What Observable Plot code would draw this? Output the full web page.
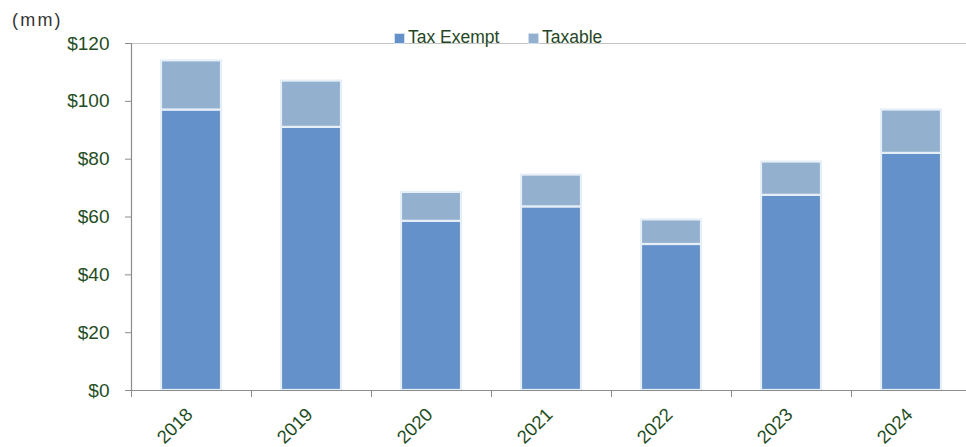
<!DOCTYPE html>
<html>
<head>
<meta charset="utf-8">
<script src="https://cdn.jsdelivr.net/npm/d3@7"></script>
<script src="https://cdn.jsdelivr.net/npm/@observablehq/plot@0.6"></script>
<style>
  html, body { margin: 0; padding: 0; background: #fff; }
  #wrap { position: relative; width: 966px; height: 447px; overflow: hidden; font-family: "Liberation Sans", Arial, sans-serif; }
  #wrap > svg { position: absolute; left: 0; top: 0; }
</style>
</head>
<body>
<div id="wrap"></div>
<script>
const years = ["2018", "2019", "2020", "2021", "2022", "2023", "2024"];
const taxExempt = [97, 91, 58.5, 63.5, 50.5, 67.5, 82];
const taxable = [17, 16, 10, 11, 8.5, 11.5, 15];
const seriesNames = ["Tax Exempt", "Taxable"];
const seriesColors = ["#6591cb", "#93b0cf"];
const yTicks = [0, 20, 40, 60, 80, 100, 120];
const unitLabel = "(mm)";

const table = [];
years.forEach((yr, i) => {
  table.push({year: yr, series: seriesNames[0], value: taxExempt[i]});
  table.push({year: yr, series: seriesNames[1], value: taxable[i]});
});

const green = "#1f4d1f";
const axisGray = "#8c8c8c";

const chart = Plot.plot({
  width: 966,
  height: 447,
  marginTop: 43,
  marginBottom: 57,
  marginLeft: 131,
  marginRight: 0,
  style: {fontFamily: "'Liberation Sans', Arial, sans-serif", overflow: "visible", background: "transparent"},
  x: {domain: years, range: [131, 971], paddingInner: 0.5, paddingOuter: 0.25},
  y: {domain: [0, 120]},
  color: {domain: seriesNames, range: seriesColors},
  marks: [
    Plot.ruleY([120], {stroke: "#c4c4c4", strokeWidth: 1.2}),
    Plot.barY(table, {x: "year", y: "value", fill: "series", stroke: "#e6eef8", strokeWidth: 2.2}),
    Plot.ruleY([0], {stroke: axisGray, strokeWidth: 1.2}),
    Plot.ruleX([years[0]], {y1: 0, y2: 120, dx: -60, stroke: axisGray, strokeWidth: 1.2}),
    Plot.axisY({ticks: yTicks, tickSize: 6, tickPadding: 16, tickFormat: d => "$" + d,
      fontSize: 19, fill: green, stroke: axisGray, label: null}),
    Plot.axisX({tickSize: 7, dx: -60, fill: "none", stroke: axisGray, tickFormat: () => "", label: null}),
    Plot.text(years, {x: d => d, frameAnchor: "bottom", dy: 21, dx: -2, rotate: -45,
      textAnchor: "end", lineAnchor: "middle", fontSize: 18.5, fill: green})
  ]
});

const wrap = document.getElementById("wrap");
wrap.appendChild(chart);

// overlay: unit label and legend
const ov = d3.select(wrap).append("svg")
  .attr("width", 966).attr("height", 447)
  .style("font-family", "'Liberation Sans', Arial, sans-serif");

ov.append("text").attr("x", 12).attr("y", 26)
  .attr("font-size", 18).attr("fill", "#333").attr("letter-spacing", 2.2)
  .text(unitLabel);

const legendX = [394, 528];
seriesNames.forEach((name, i) => {
  ov.append("rect").attr("x", legendX[i] + 0.5).attr("y", 33.5).attr("width", 10).attr("height", 10)
    .attr("fill", seriesColors[i]).attr("stroke", "#d2deee").attr("stroke-width", 1);
  ov.append("text").attr("x", legendX[i] + 14).attr("y", 43)
    .attr("font-size", 17.5).attr("fill", "#264626").text(name);
});
</script>
</body>
</html>
